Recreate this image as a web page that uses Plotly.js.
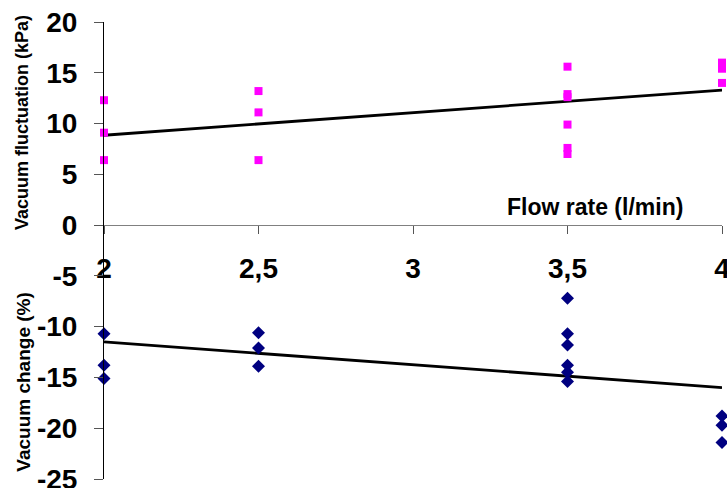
<!DOCTYPE html>
<html>
<head>
<meta charset="utf-8">
<script src="https://cdn.plot.ly/plotly-3.0.1.min.js"></script>
<style>html,body{margin:0;padding:0;background:#fff}#chart{width:727px;height:488px}</style>
</head>
<body>
<div id="chart"></div>
<script>
// Flow rate (l/min)
const fluctX = [2, 2, 2, 2.5, 2.5, 2.5, 3.5, 3.5, 3.5, 3.5, 3.5, 3.5, 4, 4, 4];
// Vacuum fluctuation (kPa)
const fluctY = [12.3, 9.1, 6.4, 13.2, 11.1, 6.4, 15.6, 12.9, 12.6, 9.9, 7.6, 7.0, 16.0, 15.4, 14.0];
// Vacuum change (%)
const changeX = [2, 2, 2, 2.5, 2.5, 2.5, 3.5, 3.5, 3.5, 3.5, 3.5, 3.5, 4, 4, 4];
const changeY = [-10.7, -13.8, -15.1, -10.6, -12.1, -13.9, -7.2, -10.7, -11.8, -13.8, -14.5, -15.4, -18.8, -19.7, -21.4];
// Linear trend lines
const trendX = [2, 4];
const trendFluct = [8.85, 13.3];
const trendChange = [-11.5, -16.0];

const xTickVals = [2, 2.5, 3, 3.5, 4];
const xTickText = ['2', '2,5', '3', '3,5', '4'];
const yTickVals = [-25, -20, -15, -10, -5, 0, 5, 10, 15, 20];
const yTickText = ['-25', '-20', '-15', '-10', '-5', '0', '5', '10', '15', '20'];

const FONT = 'Liberation Sans, Arial, sans-serif';

const traces = [
  {x: trendX, y: trendFluct, mode: 'lines', line: {color: '#000', width: 2.8}, cliponaxis: false, hoverinfo: 'skip'},
  {x: trendX, y: trendChange, mode: 'lines', line: {color: '#000', width: 2.8}, cliponaxis: false, hoverinfo: 'skip'},
  {x: fluctX, y: fluctY, mode: 'markers', marker: {symbol: 'square', size: 8, color: '#ff00ff'}, cliponaxis: false},
  {x: changeX, y: changeY, mode: 'markers', marker: {symbol: 'diamond', size: 10, color: '#000080'}, cliponaxis: false}
];

const layout = {
  width: 727, height: 488,
  margin: {l: 104, r: 5, t: 22, b: 9},
  paper_bgcolor: '#fff', plot_bgcolor: '#fff',
  showlegend: false,
  font: {family: FONT, color: '#000'},
  xaxis: {
    range: [2, 4], anchor: 'free', position: 25/45,
    tickvals: xTickVals, ticktext: xTickText,
    ticks: 'outside', ticklen: 8, tickwidth: 1, tickcolor: '#555',
    showline: true, linecolor: '#808080', linewidth: 1,
    showgrid: false, zeroline: false,
    tickfont: {family: FONT, size: 28, weight: 'bold', color: '#000'},
    ticklabelstandoff: 10, ticklabeloverflow: 'allow'
  },
  yaxis: {
    range: [-25, 20], tickvals: yTickVals, ticktext: yTickText,
    ticks: 'outside', ticklen: 9, tickwidth: 1, tickcolor: '#555',
    showline: true, linecolor: '#000', linewidth: 1,
    showgrid: false, zeroline: false,
    tickfont: {family: FONT, size: 28, weight: 'bold', color: '#000'},
    ticklabelstandoff: 11, ticklabeloverflow: 'allow'
  },
  annotations: [
    {text: 'Vacuum fluctuation (kPa)', xref: 'paper', yref: 'y', x: -82/618, y: 10.05, textangle: -90,
     showarrow: false, xanchor: 'center', yanchor: 'middle', font: {family: FONT, size: 18, weight: 'bold', color: '#000'}},
    {text: 'Vacuum change (%)', xref: 'paper', yref: 'y', x: -80/618, y: -15.42, textangle: -90,
     showarrow: false, xanchor: 'center', yanchor: 'middle', font: {family: FONT, size: 19, weight: 'bold', color: '#000'}},
    {text: 'Flow rate (l/min)', xref: 'x', yref: 'y', x: 3.59, y: 1.8,
     showarrow: false, xanchor: 'center', yanchor: 'middle', font: {family: FONT, size: 23, weight: 'bold', color: '#000'}}
  ]
};

Plotly.newPlot('chart', traces, layout, {displayModeBar: false, staticPlot: true});
</script>
</body>
</html>
